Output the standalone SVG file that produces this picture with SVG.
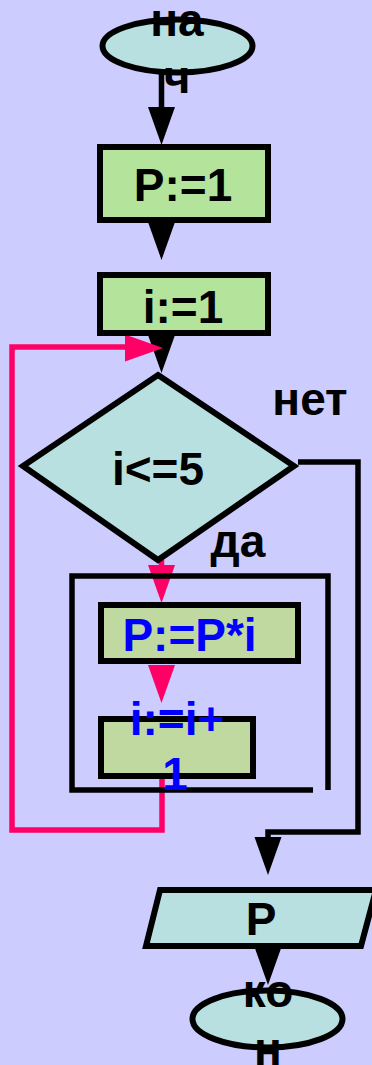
<svg xmlns="http://www.w3.org/2000/svg" width="372" height="1065" viewBox="0 0 372 1065">
<style>
text{font-family:"Liberation Sans",Arial,sans-serif;font-weight:bold;font-size:46px;text-anchor:middle}
.blk{fill:#000}
.blu{fill:#0000FF}
.term{fill:#B8E0E0;stroke:#000;stroke-width:6}
.proc{fill:#B4E49C;stroke:#000;stroke-width:6}
.body{fill:#C0D9A0;stroke:#000;stroke-width:6}
.ln{fill:none;stroke:#000;stroke-width:5.5}
.pk{fill:none;stroke:#FF0066;stroke-width:5.5}
</style>
<defs>
<path id="ah" d="M0,0 L-13.5,-38 L13.5,-38 Z"/>
</defs>
<rect x="0" y="0" width="372" height="1065" fill="#CCCCFF"/>
<g id="connectors">
<line class="ln" x1="161.5" y1="72" x2="161.5" y2="110"/>
<use href="#ah" fill="#000" transform="translate(161.5,145)"/>
<use href="#ah" fill="#000" transform="translate(161.5,260)"/>
<use href="#ah" fill="#000" transform="translate(161.5,373)"/>
<polyline class="ln" points="298,462 358,462 358,832 268,832 268,840"/>
<use href="#ah" fill="#000" transform="translate(268,875)"/>
<use href="#ah" fill="#000" transform="translate(268,985)"/>
<polyline class="pk" points="162,777 162,830 12,830 12,347 125,347"/>
<use href="#ah" fill="#FF0066" transform="translate(163,348) rotate(-90)"/>
<line class="pk" x1="161.5" y1="560" x2="161.5" y2="568"/>
<use href="#ah" fill="#FF0066" transform="translate(161.5,603)"/>
<use href="#ah" fill="#FF0066" transform="translate(161.5,703)"/>
<polyline class="ln" points="313,790 72,790 72,576 328,576 328,790"/>
</g>
<g id="start">
<ellipse class="term" cx="177.5" cy="46" rx="75" ry="26.5"/>
<text class="blk" x="177" y="36">на</text>
<text class="blk" x="177" y="93">ч</text>
</g>
<g id="p1">
<rect class="proc" x="100" y="147" width="168" height="73"/>
<text class="blk" x="183" y="201">P:=1</text>
</g>
<g id="i1">
<rect class="proc" x="100" y="275" width="168" height="58"/>
<text class="blk" x="183" y="323">i:=1</text>
</g>
<g id="cond">
<polygon class="term" points="158,375 294,466 158,560 23,466"/>
<text class="blk" x="158" y="485">i&lt;=5</text>
</g>
<g id="labels">
<text class="blk" x="310" y="415">нет</text>
<text class="blk" x="238" y="557">да</text>
</g>
<g id="pmul">
<rect class="body" x="101" y="605" width="197" height="56"/>
<text class="blu" x="189.5" y="651">P:=P*i</text>
</g>
<g id="inc">
<rect class="body" x="101" y="719" width="152" height="57"/>
<text class="blu" x="177" y="735">i:=i+</text>
<text class="blu" x="175" y="790">1</text>
</g>
<g id="out">
<polygon class="term" points="160,890 376,890 361,946 146,946"/>
<text class="blk" x="261" y="935">P</text>
</g>
<g id="end">
<ellipse class="term" cx="267.5" cy="1019" rx="75" ry="28.5"/>
<text class="blk" x="268" y="1007">ко</text>
<text class="blk" x="268" y="1065">н</text>
</g>
</svg>
